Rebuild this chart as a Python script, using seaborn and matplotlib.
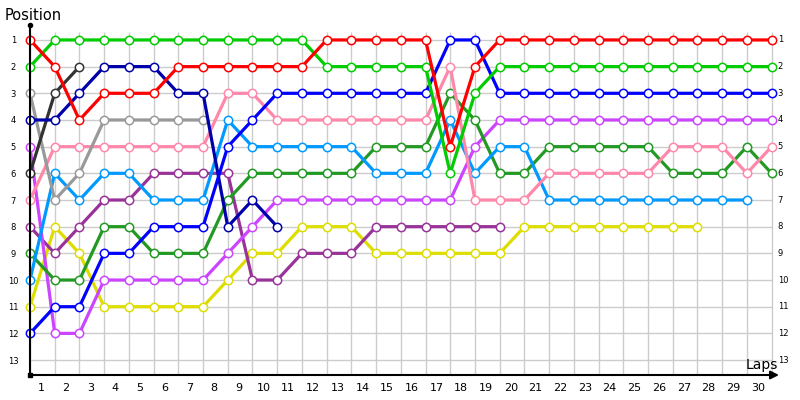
import matplotlib
matplotlib.use("Agg")
import matplotlib.pyplot as plt
import seaborn as sns

# lap 0 = starting grid
laps = list(range(31))
positions = list(range(1, 14))

red = [1, 2, 4, 3, 3, 3, 2, 2, 2, 2, 2, 2, 1, 1, 1, 1, 1, 5, 2, 1, 1, 1, 1, 1, 1, 1, 1, 1, 1, 1, 1]
green = [2, 1, 1, 1, 1, 1, 1, 1, 1, 1, 1, 1, 2, 2, 2, 2, 2, 6, 3, 2, 2, 2, 2, 2, 2, 2, 2, 2, 2, 2, 2]
blue = [12, 11, 11, 9, 9, 8, 8, 8, 5, 4, 3, 3, 3, 3, 3, 3, 3, 1, 1, 3, 3, 3, 3, 3, 3, 3, 3, 3, 3, 3, 3]
navy = [4, 4, 3, 2, 2, 2, 3, 3, 8, 7, 8]
dark_gray = [6, 3, 2]
gray = [3, 7, 6, 4, 4, 4, 4, 4]
pink = [7, 5, 5, 5, 5, 5, 5, 5, 3, 3, 4, 4, 4, 4, 4, 4, 4, 2, 7, 7, 7, 6, 6, 6, 6, 6, 5, 5, 5, 6, 5]
light_blue = [10, 6, 7, 6, 6, 7, 7, 7, 4, 5, 5, 5, 5, 5, 6, 6, 6, 4, 6, 5, 5, 7, 7, 7, 7, 7, 7, 7, 7, 7]
dark_green = [9, 10, 10, 8, 8, 9, 9, 9, 7, 6, 6, 6, 6, 6, 5, 5, 5, 3, 4, 6, 6, 5, 5, 5, 5, 5, 6, 6, 6, 5, 6]
purple = [8, 9, 8, 7, 7, 6, 6, 6, 6, 10, 10, 9, 9, 9, 8, 8, 8, 8, 8, 8]
violet = [5, 12, 12, 10, 10, 10, 10, 10, 9, 8, 7, 7, 7, 7, 7, 7, 7, 7, 5, 4, 4, 4, 4, 4, 4, 4, 4, 4, 4, 4, 4]
yellow = [11, 8, 9, 11, 11, 11, 11, 11, 10, 9, 9, 8, 8, 8, 9, 9, 9, 9, 9, 9, 8, 8, 8, 8, 8, 8, 8, 8]

series = [
    (yellow, "#dddd00"),
    (purple, "#993399"),
    (violet, "#cc44ff"),
    (dark_green, "#229922"),
    (light_blue, "#0099ff"),
    (pink, "#ff88aa"),
    (gray, "#999999"),
    (dark_gray, "#333333"),
    (navy, "#0000aa"),
    (blue, "#0000ff"),
    (green, "#00cc00"),
    (red, "#ff0000"),
]

fig = plt.figure(figsize=(8, 4), dpi=100)
ax = fig.add_axes([30 / 800, 25 / 400, 749 / 800, 350 / 400])
ax.set_xlim(0, 30.3)
y_bottom, y_top = 13.56, 0.44
ax.set_ylim(y_bottom, y_top)
for s in ax.spines.values():
    s.set_visible(False)

# grid
ax.vlines(laps, 0.7, y_bottom, color="#cccccc", lw=1, zorder=0)
ax.hlines(positions, 0, laps[-1], color="#cccccc", lw=1, zorder=0)

for vals, c in series:
    sns.lineplot(x=laps[:len(vals)], y=vals, ax=ax, color=c, lw=2.3,
                 marker="o", markersize=6, markerfacecolor="white",
                 markeredgecolor=c, markeredgewidth=1.1, clip_on=False,
                 sort=False, estimator=None)

# axes lines
ax.plot([0, 0], [y_bottom, y_top], color="black", lw=1.5, clip_on=False, zorder=5)
ax.plot([0], [y_top], marker="o", color="black", markersize=3, clip_on=False, zorder=5)
ax.plot([0], [y_bottom], marker="s", color="black", markersize=2.5, clip_on=False, zorder=5)
ax.annotate("", xy=(30.3, y_bottom), xytext=(0, y_bottom), annotation_clip=False,
            arrowprops=dict(arrowstyle="-|>", color="black", lw=1.5,
                            mutation_scale=12, shrinkA=0, shrinkB=0))

# ticks
ax.set_xticks([l - 0.55 for l in laps[1:]])
ax.set_xticklabels([str(l) for l in laps[1:]], fontsize=8)
ax.set_yticks(positions)
ax.set_yticklabels([str(p) for p in positions], fontsize=6)
plt.setp(ax.get_yticklabels(), ha="center")
ax.tick_params(axis="x", length=0, pad=6)
ax.tick_params(axis="y", length=0, pad=12)
for p in positions:
    ax.text(30.25, p, str(p), fontsize=6, ha="left", va="center", clip_on=False)
ax.set_xlabel("")
ax.set_ylabel("")

fig.text(5 / 800, 1 - 15 / 400, "Position", fontsize=10.5, ha="left", va="center")
ax.text(30.25, 13.2, "Laps", fontsize=10, ha="right", va="center")

fig.savefig("out.png", dpi=100)
